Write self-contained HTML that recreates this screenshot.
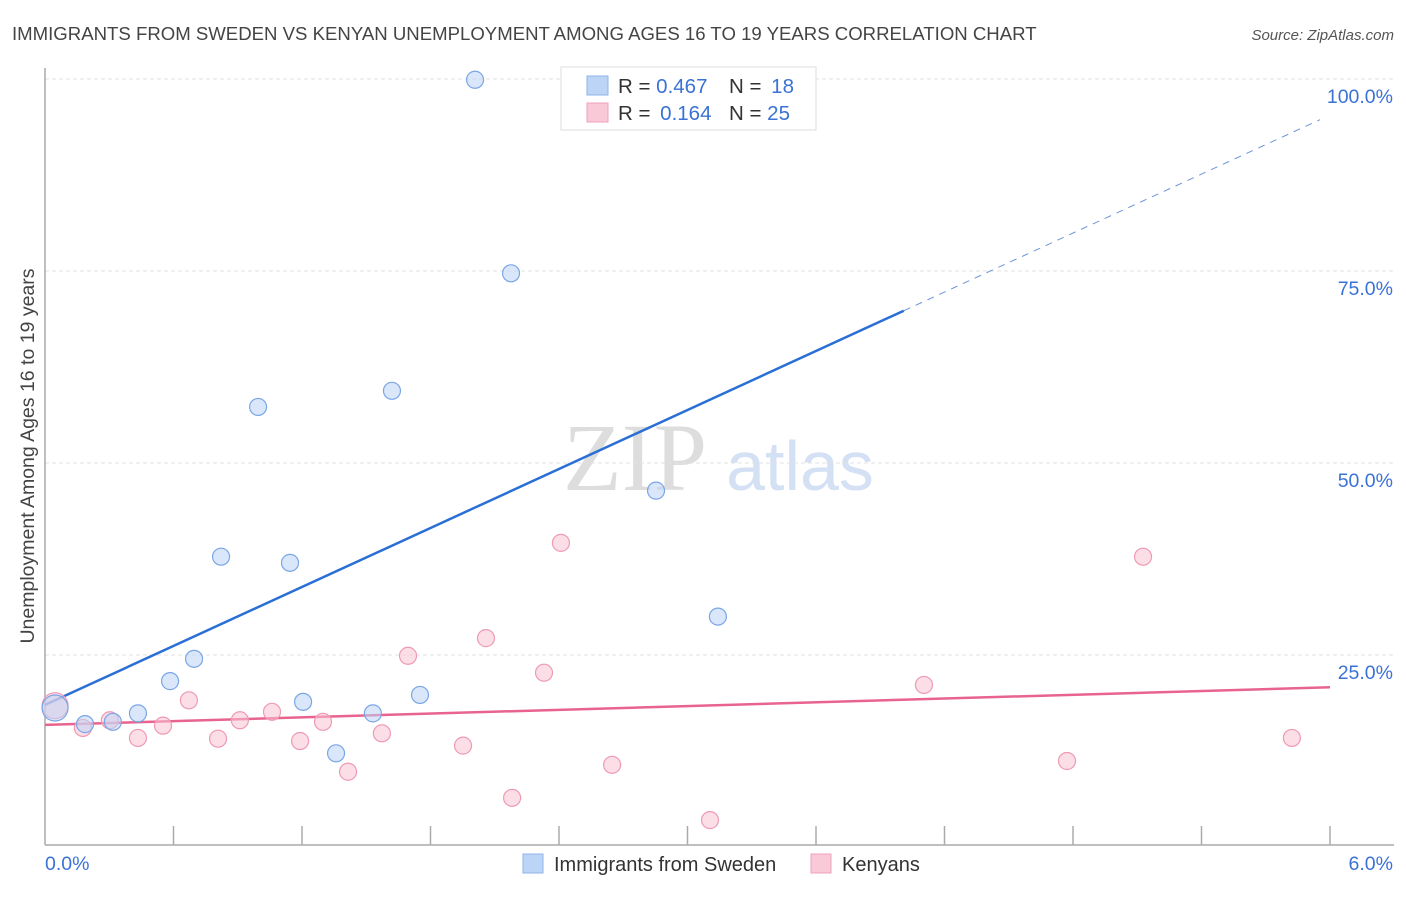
<!DOCTYPE html>
<html><head><meta charset="utf-8"><style>
body{margin:0;background:#fff;font-family:"Liberation Sans",sans-serif}
svg text{font-family:"Liberation Sans",sans-serif}
</style></head><body>
<svg id="chart" width="1406" height="892" viewBox="0 0 1406 892" xmlns="http://www.w3.org/2000/svg">
<text x="12" y="40" font-size="18.6" fill="#444">IMMIGRANTS FROM SWEDEN VS KENYAN UNEMPLOYMENT AMONG AGES 16 TO 19 YEARS CORRELATION CHART</text>
<text x="1394" y="40" font-size="15" fill="#555" font-style="italic" text-anchor="end">Source: ZipAtlas.com</text>
<text x="34" y="456" font-size="19.5" fill="#444" text-anchor="middle" transform="rotate(-90 34 456)">Unemployment Among Ages 16 to 19 years</text>
<g>
<text x="635" y="490" font-size="96" fill="#ddd" text-anchor="middle" font-family="Liberation Serif" style="font-family:'Liberation Serif',serif">ZIP</text>
<text x="800" y="490" font-size="70" fill="#d4e0f3" text-anchor="middle">atlas</text>
</g>
<g id="grid"></g>
<g id="axes"></g>
<g id="lines"></g>
<g id="points"></g>
<g>
<rect x="561" y="67" width="255" height="63" fill="#fff" stroke="#ddd"/>
<rect x="587" y="76" width="21" height="19" fill="#bcd4f5" stroke="#8fb3e8"/>
<rect x="587" y="103" width="21" height="19" fill="#f9c9d8" stroke="#f0a0ba"/>
<text x="618" y="93" font-size="20.5" fill="#333">R = <tspan fill="#3a72d6">0.467</tspan></text>
<text x="729" y="93" font-size="20.5" fill="#333">N = <tspan fill="#3a72d6" dx="4">18</tspan></text>
<text x="618" y="120" font-size="20.5" fill="#333">R = <tspan fill="#3a72d6" dx="4">0.164</tspan></text>
<text x="729" y="120" font-size="20.5" fill="#333">N = <tspan fill="#3a72d6">25</tspan></text>
</g>
<g>
<rect x="523" y="854" width="20" height="19" fill="#bcd4f5" stroke="#8fb3e8"/>
<text x="554" y="871" font-size="20" fill="#333">Immigrants from Sweden</text>
<rect x="811" y="854" width="20" height="19" fill="#f9c9d8" stroke="#f0a0ba"/>
<text x="842" y="871" font-size="20" fill="#333">Kenyans</text>
</g>
</svg>
<script>
const swedenX=[0.047,0.187,0.317,0.434,0.584,0.696,0.822,0.995,1.144,1.205,1.359,1.531,1.620,1.751,2.008,2.176,2.853,3.142];
const swedenY=[18.1,16.0,16.3,17.4,21.6,24.5,37.8,57.3,37.0,18.9,12.2,17.4,59.4,19.8,99.9,74.7,46.4,30.0];
const kenyaX=[0.047,0.177,0.303,0.434,0.551,0.672,0.808,0.910,1.060,1.191,1.298,1.415,1.573,1.695,1.952,2.059,2.181,2.330,2.409,2.648,3.105,4.104,4.772,5.127,5.822];
const kenyaY=[18.4,15.5,16.5,14.2,15.8,19.1,14.1,16.5,17.6,13.8,16.3,9.8,14.8,24.9,13.2,27.2,6.4,22.7,39.6,10.7,3.5,21.1,11.2,37.8,14.2];
const yTicks=[25,50,75,100];
const yTickLabels=["25.0%","50.0%","75.0%","100.0%"];
const xTickLabels=["0.0%","6.0%"];
const swedenTrend=[18.5,95.3];
const kenyaTrend=[15.9,20.8];

const NS="http://www.w3.org/2000/svg";
const X0=45,X1=1330,Y0=847,YPER=7.68;
const sx=v=>X0+(v/6)*(X1-X0);
const sy=v=>Y0-v*YPER;
function mk(tag,attrs,parent){const e=document.createElementNS(NS,tag);for(const k in attrs)e.setAttribute(k,attrs[k]);parent.appendChild(e);return e;}
const grid=document.getElementById('grid'),axes=document.getElementById('axes'),lines=document.getElementById('lines'),pts=document.getElementById('points');
yTicks.forEach((t,i)=>{
  const l=mk('line',{x1:X0,x2:1394,y1:sy(t),y2:sy(t),stroke:'#e2e2e2','stroke-dasharray':'4,3'},grid);
  
  
  const tx=mk('text',{x:1393,y:sy(t)+24,'font-size':19.5,fill:'#3a72d6','text-anchor':'end'},grid);
  tx.textContent=yTickLabels[i];
  
  
});
const xa=mk('line',{x1:X0,x2:1394,y1:845,y2:845,stroke:'#aaa','stroke-width':1.5},axes);


const ya=mk('line',{x1:X0,x2:X0,y1:68,y2:845,stroke:'#aaa','stroke-width':1.5},axes);


for(let i=1;i<=10;i++){
  const x=X0+i*(X1-X0)/10;
  const t=mk('line',{x1:x,x2:x,y1:826,y2:845,stroke:'#aaa','stroke-width':1.5},axes);
  
  
}
[[X0,'start'],[1393,'end']].forEach((p,i)=>{
  const t=mk('text',{x:p[0],y:870,'font-size':19.5,fill:'#3a72d6','text-anchor':p[1]},axes);
  t.textContent=xTickLabels[i];
  
  
});
const xs=4.01, xe=6;
const bAt=x=>swedenTrend[0]+(swedenTrend[1]-swedenTrend[0])*x/6;
const kAt=x=>kenyaTrend[0]+(kenyaTrend[1]-kenyaTrend[0])*x/6;
const b1=mk('line',{x1:sx(0),y1:sy(bAt(0)),x2:sx(xs),y2:sy(bAt(xs)),stroke:'#2a6fd6','stroke-width':2.5},lines);


const b2=mk('line',{x1:sx(xs),y1:sy(bAt(xs)),x2:sx(xe)-10,y2:sy(bAt(xe-10/214)),stroke:'#6d94d8','stroke-width':1,'stroke-dasharray':'7,6'},lines);


const k1=mk('line',{x1:sx(0),y1:sy(kAt(0)),x2:sx(6),y2:sy(kAt(6)),stroke:'#e8638f','stroke-width':2.5},lines);


function drawPts(xa,ya,fill,stroke,name){
  xa.forEach((v,i)=>{
    const r=i===0?13:8.5;
    const c=mk('circle',{cx:sx(v),cy:sy(ya[i]),r:r,fill:fill,'fill-opacity':0.55,stroke:stroke,'stroke-width':1.2},pts);
    
    
  });
}
drawPts(kenyaX,kenyaY,'#f9c3d4','#ee9ab5','kenyans-point');
drawPts(swedenX,swedenY,'#bcd4f5','#7aa6e6','sweden-point');
</script>
</body></html>
